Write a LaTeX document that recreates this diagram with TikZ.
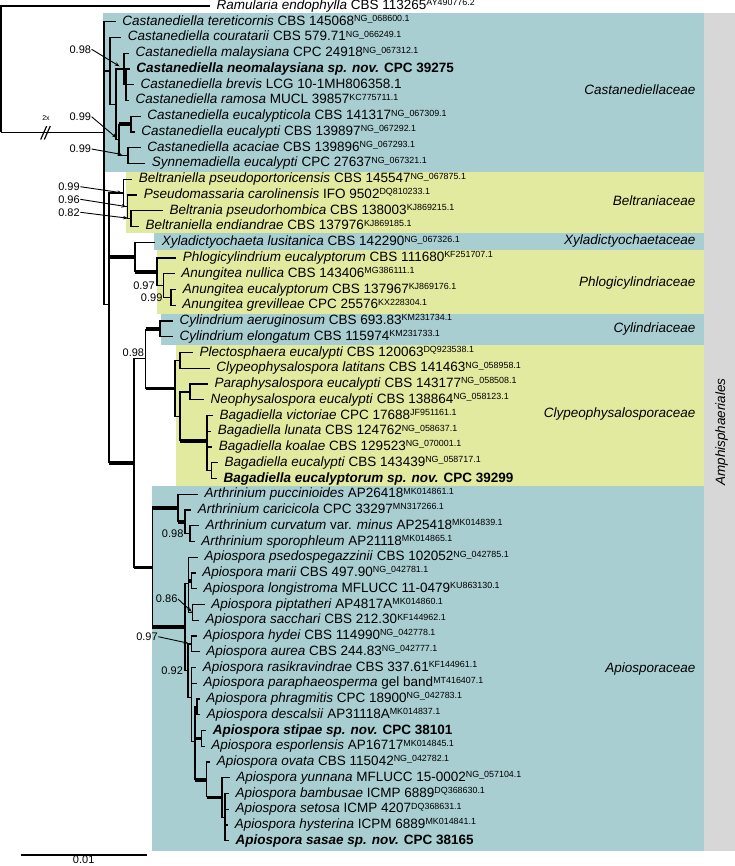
\documentclass[tikz,border=0pt]{standalone}
\usepackage{fontspec}
\setmainfont{Liberation Sans}
\usetikzlibrary{arrows.meta,positioning}

\definecolor{famblue}{RGB}{168,206,210}
\definecolor{famyellow}{RGB}{226,234,159}
\definecolor{ordgrey}{RGB}{215,215,215}

% accession numbers
\newcommand{\acc}[1]{\raisebox{3.6pt}{\fontsize{8.9}{9}\selectfont #1}}

\tikzset{
  taxon/.style={anchor=west, inner xsep=6pt, inner ysep=0pt, text height=10pt, text depth=3pt, font=\fontsize{13.5}{15}\selectfont},
  family/.style={anchor=east, inner sep=0pt, text height=10pt, text depth=3pt, font=\fontsize{13.5}{15}\selectfont\itshape},
  support/.style={inner sep=0pt, font=\fontsize{11}{12}\selectfont},
  pp/.style={-{Stealth[length=5pt,width=3.5pt]}, line width=0.9pt},
  fat/.style={line width=3.8pt},
}

\begin{document}
\begin{tikzpicture}[x=1pt, y=-1pt, line width=1.2pt]
    \useasboundingbox (0,0) rectangle (735,866);

    % Draw the family boxes
    \foreach \c/\l/\t/\b in {famblue/103/13.3/171.7, famyellow/125.5/171.7/233.3, famblue/154/233.3/250.3,
        famyellow/156.7/250.3/314, famblue/160.7/314/345, famyellow/175.7/345/486.3, famblue/152.3/486.3/850.5} {
        \fill[\c] (\l,\t) rectangle (704,\b);
    }
    \fill[ordgrey] (704,13.3) rectangle (735,850.5);

    % Taxa
    \foreach \n/\x/\lab in {
        0/217/{\textit{Ramularia endophylla} CBS 113265\acc{AY490776.2}},
        1/122.7/{\textit{Castanediella tereticornis} CBS 145068\acc{NG\_068600.1}},
        2/128.3/{\textit{Castanediella couratarii} CBS 579.71\acc{NG\_066249.1}},
        3/136/{\textit{Castanediella malaysiana} CPC 24918\acc{NG\_067312.1}},
        4/136.7/{\bfseries\textit{Castanediella neomalaysiana sp. nov.} CPC 39275},
        5/141/{\textit{Castanediella brevis} LCG 10-1MH806358.1},
        6/136/{\textit{Castanediella ramosa} MUCL 39857\acc{KC775711.1}},
        7/147.7/{\textit{Castanediella eucalypticola} CBS 141317\acc{NG\_067309.1}},
        8/141.7/{\textit{Castanediella eucalypti} CBS 139897\acc{NG\_067292.1}},
        9/147.7/{\textit{Castanediella acaciae} CBS 139896\acc{NG\_067293.1}},
        10/152.3/{\textit{Synnemadiella eucalypti} CPC 27637\acc{NG\_067321.1}},
        11/139.3/{\textit{Beltraniella pseudoportoricensis} CBS 145547\acc{NG\_067875.1}},
        12/144.3/{\textit{Pseudomassaria carolinensis} IFO 9502\acc{DQ810233.1}},
        13/170/{\textit{Beltrania pseudorhombica} CBS 138003\acc{KJ869215.1}},
        14/146/{\textit{Beltraniella endiandrae} CBS 137976\acc{KJ869185.1}},
        15/162.3/{\textit{Xyladictyochaeta lusitanica} CBS 142290\acc{NG\_067326.1}},
        16/183.3/{\textit{Phlogicylindrium eucalyptorum} CBS 111680\acc{KF251707.1}},
        17/181.7/{\textit{Anungitea nullica} CBS 143406\acc{MG386111.1}},
        18/183.3/{\textit{Anungitea eucalyptorum} CBS 137967\acc{KJ869176.1}},
        19/182.7/{\textit{Anungitea grevilleae} CPC 25576\acc{KX228304.1}},
        20/180/{\textit{Cylindrium aeruginosum} CBS 693.83\acc{KM231734.1}},
        21/180/{\textit{Cylindrium elongatum} CBS 115974\acc{KM231733.1}},
        22/200/{\textit{Plectosphaera eucalypti} CBS 120063\acc{DQ923538.1}},
        23/216.7/{\textit{Clypeophysalospora latitans} CBS 141463\acc{NG\_058958.1}},
        24/215/{\textit{Paraphysalospora eucalypti} CBS 143177\acc{NG\_058508.1}},
        25/211/{\textit{Neophysalospora eucalypti} CBS 138864\acc{NG\_058123.1}},
        26/220/{\textit{Bagadiella victoriae} CPC 17688\acc{JF951161.1}},
        27/218.3/{\textit{Bagadiella lunata} CBS 124762\acc{NG\_058637.1}},
        28/219.3/{\textit{Bagadiella koalae} CBS 129523\acc{NG\_070001.1}},
        29/225/{\textit{Bagadiella eucalypti} CBS 143439\acc{NG\_058717.1}},
        30/224/{\bfseries\textit{Bagadiella eucalyptorum sp. nov.} CPC 39299},
        31/205/{\textit{Arthrinium puccinioides} AP26418\acc{MK014861.1}},
        32/198.3/{\textit{Arthrinium caricicola} CPC 33297\acc{MN317266.1}},
        33/206/{\textit{Arthrinium curvatum} var. \textit{minus} AP25418\acc{MK014839.1}},
        34/201.7/{\textit{Arthrinium sporophleum} AP21118\acc{MK014865.1}},
        35/205/{\textit{Apiospora psedospegazzinii} CBS 102052\acc{NG\_042785.1}},
        36/202.7/{\textit{Apiospora marii} CBS 497.90\acc{NG\_042781.1}},
        37/204/{\textit{Apiospora longistroma} MFLUCC 11-0479\acc{KU863130.1}},
        38/211.7/{\textit{Apiospora piptatheri} AP4817A\acc{MK014860.1}},
        39/206/{\textit{Apiospora sacchari} CBS 212.30\acc{KF144962.1}},
        40/204/{\textit{Apiospora hydei} CBS 114990\acc{NG\_042778.1}},
        41/206.7/{\textit{Apiospora aurea} CBS 244.83\acc{NG\_042777.1}},
        42/203.3/{\textit{Apiospora rasikravindrae} CBS 337.61\acc{KF144961.1}},
        43/204/{\textit{Apiospora paraphaeosperma} gel band\acc{MT416407.1}},
        44/206.7/{\textit{Apiospora phragmitis} CPC 18900\acc{NG\_042783.1}},
        45/207.3/{\textit{Apiospora descalsii} AP31118A\acc{MK014837.1}},
        46/213.3/{\bfseries\textit{Apiospora stipae sp. nov.} CPC 38101},
        47/211.7/{\textit{Apiospora esporlensis} AP16717\acc{MK014845.1}},
        48/217.3/{\textit{Apiospora ovata} CBS 115042\acc{NG\_042782.1}},
        49/236.7/{\textit{Apiospora yunnana} MFLUCC 15-0002\acc{NG\_057104.1}},
        50/236/{\textit{Apiospora bambusae} ICMP 6889\acc{DQ368630.1}},
        51/236/{\textit{Apiospora setosa} ICMP 4207\acc{DQ368631.1}},
        52/235.3/{\textit{Apiospora hysterina} ICPM 6889\acc{MK014841.1}},
        53/236/{\bfseries\textit{Apiospora sasae sp. nov.} CPC 38165}} {
        \node[taxon] (t\n) at (\x-7, 6+15.75*\n) {\lab};
    }

    % Internal nodes
    \foreach \n/\x/\y in {oroot/1/132.4, root/104/132.4, nC/110/71, nN/116/104.4, nM1/124/69, nM2/126/84.75,
        nE/119/139.9, nEE/131/124.1, nAS/128/155.6, nR/109/304.4, nB/123.3/193, nB2/127.5/206.8, nB3/131/218.6,
        nXP/135/257, nP/157/271.8, nAN/163.3/285.6, nAN2/171/297.4, nQ/134/463.1, nCC/145.7/358.7,
        nCy/160/328.9, nCL/175/388.5, nPC/180/360.4, nPNB/180/416.5, nPN/190/391.9, nBag/207/441.1,
        nBE/211.7/470.6, nAP/152.3/567.5, nAR/178/508, nAC/185/521.8, nCS/190/533.6, nAS0/185/627.1,
        nG1/188.3/583.5, nML/191.5/580.9, nPS/192.5/612.4, nG2/188/670.7, nHA/191.5/643.9, nG4/191.7/697.5,
        nG3/195/741.8, nPD/197/706.9, nSE/201.7/738.4, nOY/206.7/780, nYB/222/797.4, nBS/225/817.1} {
        \coordinate (\n) at (\x,\y);
    }

    % Branches
    \foreach \p/\c in {oroot/t0.west, root/t1.west, root/nC, root/nR, nC/t2.west, nC/nN, nN/nM1, nN/nE,
        nM1/t3.west, nM1/nM2, nM2/t4.west, nM2/t5.west, nM2/t6.west, nE/nAS, nEE/t7.west, nEE/t8.west,
        nAS/t9.west, nAS/t10.west, nR/nB, nB/t11.west, nB/nB2, nB2/t12.west, nB2/nB3, nB3/t13.west, nB3/t14.west,
        nXP/t15.west, nP/t16.west, nP/nAN, nAN/t17.west, nAN/nAN2, nAN2/t18.west, nAN2/t19.west,
        nQ/nCC, nCy/t20.west, nCy/t21.west, nCL/nPC, nCL/nPNB, nPC/t22.west, nPC/t23.west, nPNB/nPN,
        nPN/t24.west, nPN/t25.west, nBag/t26.west, nBag/t27.west, nBag/t28.west, nBag/nBE,
        nBE/t29.west, nBE/t30.west, nAR/t31.west, nAC/t32.west, nAC/nCS, nCS/t33.west, nCS/t34.west,
        nAS0/nG1, nAS0/nG2, nG1/t35.west, nG1/nPS, nML/t36.west, nML/t37.west, nPS/t38.west, nPS/t39.west,
        nG2/nHA, nG2/nG4, nHA/t40.west, nHA/t41.west, nG4/t42.west, nG4/t43.west, nG4/nG3, nG3/nPD,
        nPD/t44.west, nPD/t45.west, nSE/t46.west, nSE/t47.west, nOY/t48.west, nYB/t49.west, nYB/nBS,
        nBS/t50.west, nBS/t51.west, nBS/t52.west, nBS/t53.west} {
        \draw (\p) |- (\c);
    }
    % well supported branches
    \foreach \p/\c in {nE/nEE, nR/nXP, nR/nQ, nXP/nP, nQ/nAP, nCC/nCy, nCC/nCL, nPNB/nBag,
        nAP/nAR, nAP/nAS0, nAR/nAC, nG1/nML, nG3/nSE, nG3/nOY, nOY/nYB} {
        \draw (\p) -- (\p |- \c);
        \draw[fat] (\p |- \c) -- (\c);
    }

    % Outgroup stem with break
    \draw (oroot) -- (root);
    \draw (40.7,139.5) -- (46.7,126);
    \draw (44.3,139.5) -- (50.3,126);
    \node[inner sep=0pt, font=\fontsize{7}{8}\selectfont] (brk) at (46,118.3) {2x};

    % Support values
    \node[support] (s1) at (80.3,49.3) {0.98};
    \node[support] (s2) at (80.3,116.7) {0.99};
    \node[support] (s3) at (80.3,149) {0.99};
    \node[support] (s4) at (69,186.7) {0.99};
    \node[support] (s5) at (69,199.3) {0.96};
    \node[support] (s6) at (69,212.3) {0.82};
    \node[support] (s7) at (166.7,599) {0.86};
    \node[support] (s8) at (147,636.7) {0.97};
    \draw[pp, shorten >=5pt] (s1.east) -- (nM1);
    \draw[pp, shorten >=3pt] (s2.east) -- (nE);
    \draw[pp, shorten >=6pt] (s3.east) -- (nAS);
    \draw[pp, shorten >=1pt] (s4.east) -- (nB);
    \draw[pp, shorten >=1pt] (s5.east) -- (nB2);
    \draw[pp, shorten >=3pt] (s6.east) -- (nB3);
    \draw[pp, shorten >=1pt] (s7.east) -- (nPS);
    \draw[pp, shorten >=3pt] (s8.east) -- (nHA);
    \node[support, left=8pt of nAN] (s9) {0.97};
    \node[support, left=8pt of nAN2] (s10) {0.99};
    \node[support, above left=1pt and 1pt of nCC] (s11) {0.98};
    \node[support, left=6pt of nCS] (s12) {0.98};
    \node[support, left=4.5pt of nG2] (s13) {0.92};

    % Family and order labels
    \node[family] (fCas) at (696,90.7) {Castanediellaceae};
    \node[family] (fBel) at (696,201.7) {Beltraniaceae};
    \node[family] (fXyl) at (696,241.5) {Xyladictyochaetaceae};
    \node[family] (fPhl) at (696,282.7) {Phlogicylindriaceae};
    \node[family] (fCyl) at (696,328.7) {Cylindriaceae};
    \node[family] (fCly) at (696,413.5) {Clypeophysalosporaceae};
    \node[family] (fApi) at (696,669) {Apiosporaceae};
    \node[family, rotate=90, anchor=base] (ord) at (725,432) {Amphisphaeriales};

    % Scale bar
    \coordinate (sbl) at (20.7,855);
    \coordinate (sbr) at (146.7,855);
    \draw (sbl) -- (sbr);
    \node[support] (sbt) at (83.7,860) {0.01};
\end{tikzpicture}
\end{document}
